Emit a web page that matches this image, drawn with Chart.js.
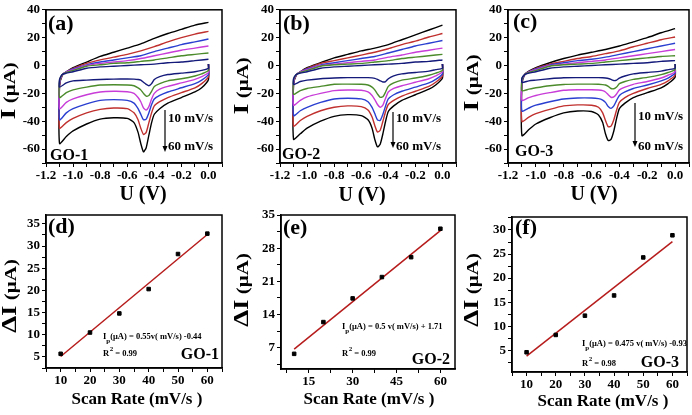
<!DOCTYPE html>
<html>
<head>
<meta charset="utf-8">
<script src="https://cdn.jsdelivr.net/npm/chart.js@4.4.1/dist/chart.umd.min.js"></script>
<style>
  body { margin: 0; background: #fff; width: 692px; height: 415px; position: relative; overflow: hidden; }
  .panel { position: absolute; }
</style>
</head>
<body>
<div class="panel" style="left:0;top:0;width:230px;height:205px"><canvas id="pa"></canvas></div>
<div class="panel" style="left:230px;top:0;width:230px;height:205px"><canvas id="pb"></canvas></div>
<div class="panel" style="left:460px;top:0;width:232px;height:205px"><canvas id="pc"></canvas></div>
<div class="panel" style="left:0;top:205px;width:230px;height:210px"><canvas id="pd"></canvas></div>
<div class="panel" style="left:230px;top:205px;width:230px;height:210px"><canvas id="pe"></canvas></div>
<div class="panel" style="left:460px;top:205px;width:232px;height:210px"><canvas id="pf"></canvas></div>
<script>
const SERIF = '"Liberation Serif", "Times New Roman", serif';

// CV sweep path (V): cathodic branch 0 -> -1.1 V, then anodic branch -1.1 -> 0 V
const potential = [0, 0, -0.05, -0.1, -0.2, -0.3, -0.36, -0.4, -0.42, -0.44, -0.46, -0.48, -0.5, -0.52, -0.55, -0.6, -0.7, -0.8, -0.9, -1.0, -1.05, -1.1,
  -1.1, -1.08, -1.05, -1.0, -0.9, -0.8, -0.7, -0.6, -0.5, -0.4, -0.3, -0.2, -0.1, 0];

// currents (uA) for scan rates 10..60 mV/s
const go1_10 = [1, -2, -3.5, -4.5, -5.5, -6.5, -8, -10, -13, -14.5, -13.5, -12, -10.5, -10, -9.8, -9.7, -9.8, -10, -10.5, -11, -12.5, -15.5,
  -10, -6.5, -5.5, -4.5, -2, -1, -0.5, 0, 0.5, 1, 2, 2.5, 3.5, 4.5];
const go1_20 = [1, -3.5, -6, -7.5, -9.5, -11, -13, -15, -18.5, -21.5, -22, -20, -17.5, -16, -14.5, -14, -13.8, -14, -15.5, -17.5, -19.5, -23,
  -11, -6.5, -5, -3.5, -0.5, 0.5, 1.5, 2, 3, 4, 5.5, 7, 8, 9];
const go1_30 = [1, -5, -8, -10, -12.5, -15, -17, -20, -24, -29.5, -32, -30.5, -26, -23, -20, -18.8, -18.5, -19, -21, -24, -26.5, -31,
  -12, -6.5, -4.5, -3, 0, 1.5, 2.5, 3.5, 5, 7, 9, 11, 12.5, 14];
const go1_40 = [1, -6.5, -10.5, -13, -16, -19, -21.5, -24, -28, -34, -38.5, -39, -35, -31, -27, -25, -24.5, -25, -27.5, -31, -34, -39,
  -13, -6.5, -4.5, -2.5, 0.5, 2.5, 4, 5.5, 7, 10, 12.5, 15, 17, 19];
const go1_50 = [1, -8, -13, -16, -19.5, -23, -26, -29, -34, -41, -48, -49.5, -45, -39, -34, -31, -30.5, -31.5, -34, -38, -41, -45,
  -14, -7, -4.5, -2, 1.5, 4, 6, 8, 10.5, 13.5, 17, 20, 22.5, 24.5];
const go1_60 = [1, -10, -16, -19, -23, -27, -31, -35, -41, -50, -59, -62, -56, -48, -41, -38, -37.5, -38.5, -42, -47, -51, -56,
  -15, -7, -4.5, -1.5, 2.5, 6.5, 9.5, 12.5, 15.5, 19.5, 23, 26, 29, 31];

const go2_10 = [1, -2, -3, -4, -5, -6, -7.5, -9.5, -11.5, -11.8, -11, -10, -9.2, -8.9, -8.7, -8.7, -8.7, -9, -9.5, -10.5, -11.5, -13.6,
  -9.5, -6.5, -5.5, -4.5, -2, -1, -0.5, 0, 0.5, 1, 1.5, 2.5, 3, 4];
const go2_20 = [1, -3.5, -5.5, -7, -9, -10.5, -12.5, -15, -19, -22.5, -22.8, -20.5, -17.5, -15.5, -14, -13.5, -13.4, -13.5, -15, -16.5, -18, -20.7,
  -10.5, -6.5, -5, -3.5, -0.5, 0.5, 1, 1.5, 2.5, 3.5, 5, 6, 7, 8];
const go2_30 = [1, -4.5, -7.5, -9.5, -12, -14.5, -16.5, -19, -23.5, -28.5, -30, -28, -24.5, -21.5, -19, -17.8, -17.6, -18, -20, -22.5, -25, -28.5,
  -11.5, -6.5, -4.5, -3, 0, 1, 2, 3, 4, 6, 7.5, 9.5, 11, 12.5];
const go2_40 = [1, -6, -10, -12.5, -15.5, -18.5, -21, -24, -29, -35, -39.5, -39, -34.5, -30, -26, -24, -23.5, -24, -26.5, -30, -32.5, -36,
  -12.5, -6.5, -4.5, -2.5, 0.5, 2, 3.5, 5, 6.5, 9, 11.5, 14, 16, 18];
const go2_50 = [1, -7.5, -12, -15, -18.5, -22, -25, -28, -33, -40, -46.5, -47.8, -43, -37, -32, -29.5, -29, -30, -32.5, -36.5, -39.5, -43.5,
  -13, -7, -4.5, -2, 1.5, 3.5, 5.5, 7.5, 9.5, 12, 15, 17.5, 20.5, 23];
const go2_60 = [1, -9, -14, -17, -21, -25, -29, -33, -40, -49, -56.5, -58.4, -53, -45, -39, -36, -35.3, -36.5, -40, -45, -49, -53,
  -14, -7, -4.5, -1.5, 2, 5.5, 8, 10.5, 12.5, 15, 18.5, 22, 25.5, 29];

const go3_10 = [1, -2, -3, -4, -5, -6, -7.5, -9, -10.5, -10.8, -10, -9.3, -9, -8.8, -8.7, -8.7, -8.7, -8.8, -9.5, -10.5, -11, -12.2,
  -9, -6.5, -5.5, -4.5, -2, -1, -0.5, 0, 0.5, 1, 1.5, 2, 3, 3.5];
const go3_20 = [1, -3, -5, -6.5, -8.5, -10, -11.5, -13, -15.5, -16.7, -16.5, -15, -14, -13.7, -13.5, -13.4, -13.4, -13.6, -14.5, -16, -17, -18.1,
  -10, -6.5, -5, -3.5, -0.5, 0.5, 1, 1.5, 2.5, 3.5, 4.5, 5.5, 6.5, 7];
const go3_30 = [1, -4.5, -7, -9, -11.5, -13.5, -15.5, -17.5, -20.5, -22.5, -22.8, -21, -19, -18, -17.6, -17.4, -17.4, -17.8, -19.5, -21.5, -23, -25,
  -10.5, -6.5, -4.5, -3, 0, 1, 2, 3, 4, 5.5, 7, 8.5, 10, 11.5];
const go3_40 = [1, -5.5, -9, -11, -14, -16.5, -19, -21.5, -25, -29, -30.8, -29.5, -26.5, -24.8, -23.8, -23.3, -23.3, -24, -26, -28.5, -30.5, -32.7,
  -11.5, -6.5, -4.5, -2.5, 0.5, 2, 3.5, 4.5, 6, 8, 10, 12, 14, 16];
const go3_50 = [1, -7, -11, -13.5, -16.5, -20, -23, -26.5, -32, -39, -43.5, -44, -39.5, -34, -30, -28.5, -28.3, -29, -31.5, -34.5, -37, -40.2,
  -12, -6.5, -4.5, -2, 1, 3, 5, 6.5, 8.5, 10.5, 13.5, 16, 18.5, 20.5];
const go3_60 = [1, -8.5, -13, -16, -19.5, -23, -27, -31, -38, -47, -53, -53.9, -49, -41, -35.5, -33, -32.7, -34, -37.5, -42, -46, -50.4,
  -13, -6.5, -4, -1.5, 2, 5, 7.5, 9.5, 11.5, 14, 17, 20, 23.5, 26.5];

const cvTicksX = [-1.2, -1.1, -1.0, -0.9, -0.8, -0.7, -0.6, -0.5, -0.4, -0.3, -0.2, -0.1, 0, 0.1];
const cvLabelsX = [-1.2, -1.0, -0.8, -0.6, -0.4, -0.2, 0];
const cvTicksY = [-70, -60, -50, -40, -30, -20, -10, 0, 10, 20, 30, 40];
const cvLabelsY = [-60, -40, -20, 0, 20, 40];

// peak current vs scan rate
const scanRate = [10, 20, 30, 40, 50, 60];
const dI_go1 = [5.7, 10.5, 14.8, 20.3, 28.2, 32.8];
const dI_go2 = [5.7, 12.4, 17.4, 21.9, 26.1, 32.1];
const dI_go3 = [4.6, 8.2, 12.2, 16.4, 24.3, 28.9];
const fitRate = [10, 60];
const fit_go1 = [5.1, 32.6];
const fit_go2 = [6.7, 31.7];
const fit_go3 = [3.8, 27.6];

const rateTicks10 = [5, 10, 15, 20, 25, 30, 35, 40, 45, 50, 55, 60, 65];
const rateLabels10 = [10, 20, 30, 40, 50, 60];
const rateTicks15 = [7.5, 15, 22.5, 30, 37.5, 45, 52.5, 60];
const rateLabels15 = [15, 30, 45, 60];
const dTicksD = [2.5, 5, 7.5, 10, 12.5, 15, 17.5, 20, 22.5, 25, 27.5, 30, 32.5, 35];
const dLabelsD = [5, 10, 15, 20, 25, 30, 35];
const dTicksE = [3.5, 7, 10.5, 14, 17.5, 21, 24.5, 28, 31.5, 35];
const dLabelsE = [7, 14, 21, 28, 35];
const dTicksF = [2.5, 5, 7.5, 10, 12.5, 15, 17.5, 20, 22.5, 25, 27.5, 30, 32.5];
const dLabelsF = [5, 10, 15, 20, 25, 30];

const cvColors = ['#141a7a', '#4b8b2b', '#c83cd8', '#2a3fd0', '#c0302e', '#000000'];

function font(size) { return size + 'px ' + SERIF; }

function rotTitle(ctx, parts, baseX, cy) {
  ctx.save();
  ctx.translate(baseX, cy);
  ctx.rotate(-Math.PI / 2);
  ctx.scale(1, 0.78);
  let total = 0;
  parts.forEach(p => { ctx.font = 'bold ' + font(p.s); p.w = ctx.measureText(p.t).width; total += p.w; });
  let x = -total / 2;
  ctx.textBaseline = 'alphabetic';
  ctx.textAlign = 'left';
  parts.forEach(p => { ctx.font = 'bold ' + font(p.s); ctx.fillText(p.t, x, 0); x += p.w; });
  ctx.restore();
}

function decoPlugin(d) {
  return {
    id: 'deco',
    afterDraw(chart) {
      const ctx = chart.ctx, a = chart.chartArea;
      ctx.save();
      ctx.strokeStyle = '#000';
      ctx.lineWidth = 1.5;
      ctx.strokeRect(a.left, a.top, a.right - a.left, a.bottom - a.top);
      ctx.fillStyle = '#000';
      ctx.textBaseline = 'alphabetic';
      // panel letter
      ctx.font = 'bold ' + font(22);
      ctx.textAlign = 'left';
      ctx.fillText(d.letter, a.left + d.letterDx, a.top + d.letterDy);
      // sample tag
      ctx.font = 'bold ' + font(16);
      if (d.tagRight) {
        ctx.textAlign = 'right';
        ctx.fillText(d.tag, a.right - d.tagDx, a.bottom - d.tagDy);
      } else {
        ctx.textAlign = 'left';
        ctx.fillText(d.tag, a.left + d.tagDx, a.bottom - d.tagDy);
      }
      // axis titles
      ctx.font = 'bold ' + font(d.xTitleSize);
      ctx.textAlign = 'center';
      ctx.fillText(d.xTitle, a.left + d.xTitleDx, a.bottom + d.xTitleDy);
      rotTitle(ctx, d.yTitle, a.left + d.yTitleDx, a.top + d.yTitleDy);
      if (d.arrow) {
        const ar = d.arrow, ax = a.left + ar.dx;
        ctx.lineWidth = 1.2;
        ctx.beginPath();
        ctx.moveTo(ax, ar.y1);
        ctx.lineTo(ax, ar.y2 - 5);
        ctx.stroke();
        ctx.beginPath();
        ctx.moveTo(ax - 2.5, ar.y2 - 6);
        ctx.lineTo(ax + 2.5, ar.y2 - 6);
        ctx.lineTo(ax, ar.y2);
        ctx.closePath();
        ctx.fill();
        ctx.font = 'bold ' + font(13);
        ctx.textAlign = 'left';
        ctx.fillText('10 mV/s', ax + 3, ar.t1);
        ctx.fillText('60 mV/s', ax + 3, ar.t2);
      }
      if (d.eq) {
        const e = d.eq;
        let x = a.left + e.dx, y = a.top + e.dy;
        ctx.textAlign = 'left';
        ctx.font = 'bold ' + font(8.5);
        ctx.fillText('I', x, y);
        x += ctx.measureText('I').width;
        ctx.font = 'bold ' + font(7);
        ctx.fillText('p', x, y + 4);
        x += ctx.measureText('p').width;
        ctx.font = 'bold ' + font(8.5);
        ctx.fillText(e.text, x, y);
        let y2 = a.top + e.dy2, x2 = a.left + e.dx;
        ctx.fillText('R', x2, y2);
        x2 += ctx.measureText('R').width + 0.5;
        ctx.font = 'bold ' + font(7);
        ctx.fillText('2', x2, y2 - 5);
        x2 += ctx.measureText('2').width;
        ctx.font = 'bold ' + font(8.5);
        ctx.fillText(e.r2, x2, y2);
      }
      ctx.restore();
    }
  };
}

function axis(min, max, ticks, labels, fmt, size, pad) {
  return {
    type: 'linear',
    min: min,
    max: max,
    afterBuildTicks: s => { s.ticks = ticks.map(v => ({ value: v })); },
    afterFit: s => { if (size.w !== undefined) s.width = size.w; if (size.h !== undefined) s.height = size.h; },
    ticks: {
      autoSkip: false,
      maxRotation: 0,
      padding: pad,
      color: '#000',
      font: { family: SERIF, size: 13, weight: 'bold' },
      callback: v => labels.includes(v) ? fmt(v) : ''
    },
    grid: { display: true, drawOnChartArea: false, drawTicks: true, tickLength: 4, color: '#000', lineWidth: 1 },
    border: { display: true, color: '#000', width: 1.5 }
  };
}

function cvChart(id, series, box, deco) {
  const datasets = series.map((arr, i) => ({
    data: potential.map((x, k) => ({ x: x, y: arr[k] })),
    showLine: true,
    borderColor: cvColors[i],
    borderWidth: 1.4,
    pointRadius: 0,
    tension: 0.2,
    fill: false
  }));
  return new Chart(document.getElementById(id), {
    type: 'scatter',
    data: { datasets: datasets },
    options: {
      responsive: true,
      maintainAspectRatio: false,
      animation: false,
      layout: { padding: { left: 0, right: box.pr, top: box.pt, bottom: 0 } },
      scales: {
        x: axis(-1.2, 0.1, cvTicksX, cvLabelsX, v => v.toFixed(1), { h: box.xh }, 1),
        y: axis(-70, 40, cvTicksY, cvLabelsY, v => String(v), { w: box.yw }, 2)
      },
      plugins: { legend: { display: false }, tooltip: { enabled: false } }
    },
    plugins: [decoPlugin(deco)]
  });
}

function rateChart(id, values, fit, box, xr, yr, deco) {
  return new Chart(document.getElementById(id), {
    type: 'scatter',
    data: {
      datasets: [{
        data: scanRate.map((x, k) => ({ x: x, y: values[k] })),
        pointStyle: 'rect',
        pointRadius: 2.5,
        backgroundColor: '#000',
        borderColor: '#000',
        order: 0
      }, {
        data: fitRate.map((x, k) => ({ x: x, y: fit[k] })),
        showLine: true,
        pointRadius: 0,
        borderColor: '#b71c1c',
        borderWidth: 1.5,
        order: 1
      }]
    },
    options: {
      responsive: true,
      maintainAspectRatio: false,
      animation: false,
      layout: { padding: { left: 0, right: box.pr, top: box.pt, bottom: 0 } },
      scales: {
        x: axis(xr[0], xr[1], xr[2], xr[3], v => String(v), { h: box.xh }, 1),
        y: axis(yr[0], yr[1], yr[2], yr[3], v => String(v), { w: box.yw }, 2)
      },
      plugins: { legend: { display: false }, tooltip: { enabled: false } }
    },
    plugins: [decoPlugin(deco)]
  });
}

const iTitle = [{ t: 'I', s: 28 }, { t: ' (μA)', s: 21 }];
const dTitle = [{ t: 'ΔI', s: 27 }, { t: ' (μA)', s: 21 }];

cvChart('pa', [go1_10, go1_20, go1_30, go1_40, go1_50, go1_60],
  { yw: 46, xh: 42, pr: 8, pt: 8 },
  { letter: '(a)', letterDx: 2, letterDy: 20, tag: 'GO-1', tagDx: 4, tagDy: 3,
    xTitle: 'U (V)', xTitleSize: 20, xTitleDx: 97, xTitleDy: 37,
    yTitle: iTitle, yTitleDx: -31, yTitleDy: 81,
    arrow: { dx: 119, y1: 110, y2: 152, t1: 122, t2: 150 } });

cvChart('pb', [go2_10, go2_20, go2_30, go2_40, go2_50, go2_60],
  { yw: 50, xh: 42, pr: 4, pt: 8 },
  { letter: '(b)', letterDx: 3, letterDy: 20, tag: 'GO-2', tagDx: 2, tagDy: 4,
    xTitle: 'U (V)', xTitleSize: 20, xTitleDx: 82, xTitleDy: 38,
    yTitle: iTitle, yTitleDx: -32, yTitleDy: 76,
    arrow: { dx: 113, y1: 112, y2: 148, t1: 122, t2: 150 } });

cvChart('pc', [go3_10, go3_20, go3_30, go3_40, go3_50, go3_60],
  { yw: 48, xh: 42, pr: 3, pt: 7 },
  { letter: '(c)', letterDx: 5, letterDy: 18, tag: 'GO-3', tagDx: 7, tagDy: 7,
    xTitle: 'U (V)', xTitleSize: 20, xTitleDx: 86, xTitleDy: 37,
    yTitle: iTitle, yTitleDx: -30, yTitleDy: 73,
    arrow: { dx: 127, y1: 103, y2: 147, t1: 120, t2: 150 } });

rateChart('pd', dI_go1, fit_go1, { yw: 46, xh: 47, pr: 8, pt: 10 },
  [5, 65, rateTicks10, rateLabels10], [2.5, 37, dTicksD, dLabelsD],
  { letter: '(d)', letterDx: 2, letterDy: 18, tag: 'GO-1', tagRight: true, tagDx: 3, tagDy: 9,
    xTitle: 'Scan Rate (mV/s )', xTitleSize: 17, xTitleDx: 91, xTitleDy: 36,
    yTitle: dTitle, yTitleDx: -30, yTitleDy: 81,
    eq: { dx: 57, dy: 124, dy2: 141, text: '(μA) = 0.55v( mV/s) -0.44', r2: ' = 0.99' } });

rateChart('pe', dI_go2, fit_go2, { yw: 51, xh: 46, pr: 3, pt: 10 },
  [5.5, 65, rateTicks15, rateLabels15], [2.5, 35, dTicksE, dLabelsE],
  { letter: '(e)', letterDx: 2, letterDy: 19, tag: 'GO-2', tagRight: true, tagDx: 5, tagDy: 5,
    xTitle: 'Scan Rate (mV/s )', xTitleSize: 17, xTitleDx: 88, xTitleDy: 35,
    yTitle: dTitle, yTitleDx: -33, yTitleDy: 75,
    eq: { dx: 61, dy: 114, dy2: 141, text: '(μA) = 0.5 v( mV/s) + 1.71', r2: ' = 0.99' } });

rateChart('pf', dI_go3, fit_go3, { yw: 52, xh: 43, pr: 2, pt: 12 },
  [5, 65, rateTicks10, rateLabels10], [0.5, 32.7, dTicksF, dLabelsF],
  { letter: '(f)', letterDx: 3, letterDy: 17, tag: 'GO-3', tagRight: true, tagDx: 8, tagDy: 5,
    xTitle: 'Scan Rate (mV/s )', xTitleSize: 17, xTitleDx: 91, xTitleDy: 34,
    yTitle: dTitle, yTitleDx: -34, yTitleDy: 73,
    eq: { dx: 70, dy: 129, dy2: 149, text: '(μA) = 0.475 v( mV/s) -0.93', r2: ' = 0.98' } });
</script>
</body>
</html>
